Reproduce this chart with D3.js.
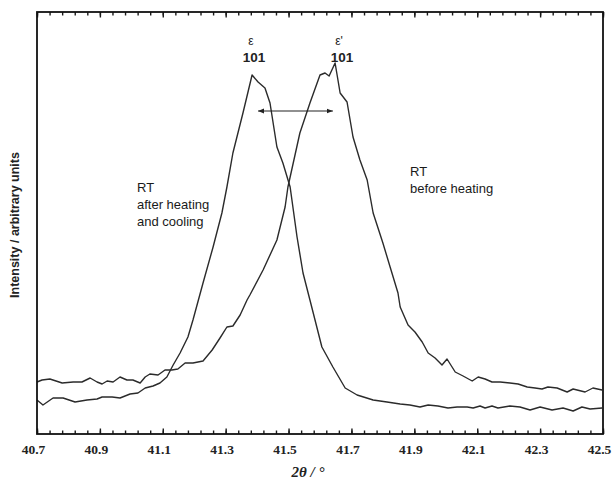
<!DOCTYPE html>
<html>
<head>
<meta charset="utf-8">
<script src="https://cdn.jsdelivr.net/npm/d3@7"></script>
<style>
  body { margin: 0; background: #fff; }
  svg { display: block; }
</style>
</head>
<body>
<svg></svg>
<script>
const WIDTH = 612;
const HEIGHT = 482;
const margin = {top: 12, right: 9, bottom: 48, left: 37};

// 2theta / degree, intensity in arbitrary units
// RT after heating and cooling (epsilon 101)
const thetaAfter = [40.700, 40.719, 40.751, 40.783, 40.821, 40.859, 40.891, 40.907, 40.939, 40.964,
  40.996, 41.021, 41.044, 41.069, 41.091, 41.113, 41.133, 41.155, 41.180, 41.196,
  41.228, 41.260, 41.288, 41.304, 41.323, 41.355, 41.384, 41.403, 41.425, 41.441,
  41.463, 41.482, 41.505, 41.527, 41.546, 41.568, 41.606, 41.641, 41.680, 41.718,
  41.769, 41.813, 41.855, 41.886, 41.918, 41.944, 41.975, 42.007, 42.036, 42.068,
  42.087, 42.109, 42.125, 42.147, 42.166, 42.204, 42.236, 42.268, 42.300, 42.338,
  42.373, 42.405, 42.433, 42.459, 42.497];
const intensityAfter = [34, 29, 36, 36, 32, 34, 35, 37, 37, 36,
  40, 41, 46, 48, 51, 57, 69, 81, 97, 114,
  151, 187, 221, 247, 281, 321, 359, 352, 346, 331,
  287, 271, 247, 197, 161, 134, 87, 67, 46, 39,
  34, 32, 30, 29, 27, 29, 28, 26, 27, 27,
  26, 28, 26, 28, 26, 28, 27, 24, 27, 24,
  26, 23, 27, 25, 26];

// RT before heating (epsilon' 101)
const thetaBefore = [40.700, 40.716, 40.741, 40.780, 40.815, 40.843, 40.869, 40.891, 40.907, 40.923,
  40.942, 40.964, 40.986, 41.005, 41.028, 41.044, 41.059, 41.085, 41.107, 41.129,
  41.148, 41.171, 41.196, 41.228, 41.257, 41.282, 41.304, 41.323, 41.346, 41.368,
  41.377, 41.419, 41.463, 41.489, 41.498, 41.536, 41.568, 41.600, 41.616, 41.629,
  41.648, 41.664, 41.686, 41.705, 41.727, 41.750, 41.769, 41.800, 41.823, 41.848,
  41.855, 41.880, 41.902, 41.925, 41.944, 41.966, 41.988, 42.004, 42.030, 42.055,
  42.084, 42.103, 42.125, 42.147, 42.173, 42.204, 42.230, 42.259, 42.284, 42.306,
  42.325, 42.354, 42.386, 42.405, 42.443, 42.468, 42.497];
const intensityBefore = [52, 54, 55, 51, 52, 52, 56, 52, 50, 53,
  52, 57, 54, 54, 51, 57, 60, 59, 64, 64,
  65, 71, 71, 73, 84, 96, 107, 108, 119, 134,
  139, 164, 194, 227, 247, 301, 331, 359, 361, 358,
  371, 341, 332, 297, 274, 254, 221, 191, 167, 141,
  127, 109, 102, 92, 81, 76, 69, 75, 62, 58,
  53, 57, 55, 52, 52, 51, 50, 47, 46, 45,
  47, 46, 42, 45, 42, 46, 44];

const majorTicks = [40.7, 40.9, 41.1, 41.3, 41.5, 41.7, 41.9, 42.1, 42.3, 42.5];
const minorTicks = d3.range(0, 46).map(k => +(40.7 + k * 0.04).toFixed(2));

const svg = d3.select('svg').attr('width', WIDTH).attr('height', HEIGHT);

const x = d3.scaleLinear()
  .domain([40.7, 42.5])
  .range([margin.left, WIDTH - margin.right]);
const y = d3.scaleLinear()
  .domain([0, 422])
  .range([HEIGHT - margin.bottom, margin.top]);

const line = d3.line()
  .x(d => x(d[0]))
  .y(d => y(d[1]));

const after = thetaAfter.map((t, i) => [t, intensityAfter[i]]);
const before = thetaBefore.map((t, i) => [t, intensityBefore[i]]);

svg.selectAll('path.curve')
  .data([after, before])
  .enter()
  .append('path')
  .attr('class', 'curve')
  .attr('d', line)
  .attr('fill', 'none')
  .attr('stroke', '#2b2b2b')
  .attr('stroke-width', 1.4)
  .attr('stroke-linejoin', 'round');

// ticks pointing inward, bottom and top
const yBottom = y.range()[0];
const yTop = y.range()[1];

function tickAxis(axisFn, ticks, len) {
  return axisFn(x).tickValues(ticks).tickSize(-len).tickFormat('');
}

svg.append('g')
  .attr('transform', `translate(0,${yBottom})`)
  .call(tickAxis(d3.axisBottom, minorTicks, 3.5));
svg.append('g')
  .attr('transform', `translate(0,${yBottom})`)
  .call(d3.axisBottom(x).tickValues(majorTicks).tickSize(-5.5).tickPadding(10)
    .tickFormat(d3.format('.1f')))
  .call(g => g.selectAll('text')
    .attr('font-family', '"Liberation Serif", "Times New Roman", serif')
    .attr('font-size', 13.5)
    .attr('font-weight', 'bold')
    .attr('fill', '#222')
    .attr('dx', -4));
svg.append('g')
  .attr('transform', `translate(0,${yTop})`)
  .call(tickAxis(d3.axisTop, minorTicks, 3.5));
svg.append('g')
  .attr('transform', `translate(0,${yTop})`)
  .call(tickAxis(d3.axisTop, majorTicks, 5.5));

svg.selectAll('.domain').remove();
svg.selectAll('.tick line').attr('stroke', '#1a1a1a').attr('stroke-width', 1.4);

// frame
svg.append('rect')
  .attr('x', margin.left)
  .attr('y', margin.top)
  .attr('width', WIDTH - margin.left - margin.right)
  .attr('height', HEIGHT - margin.top - margin.bottom)
  .attr('fill', 'none')
  .attr('stroke', '#111')
  .attr('stroke-width', 1.8);

// axis titles
svg.append('text')
  .attr('x', 308)
  .attr('y', 477)
  .attr('text-anchor', 'middle')
  .attr('font-family', '"Liberation Serif", "Times New Roman", serif')
  .attr('font-size', 15)
  .attr('font-weight', 'bold')
  .attr('font-style', 'italic')
  .attr('fill', '#222')
  .text('2θ / °');

svg.append('text')
  .attr('transform', 'translate(19,225) rotate(-90)')
  .attr('text-anchor', 'middle')
  .attr('font-family', '"Liberation Sans", Arial, sans-serif')
  .attr('font-size', 12.5)
  .attr('font-weight', 'bold')
  .attr('fill', '#222')
  .text('Intensity / arbitrary units');

// peak labels
const sans = '"Liberation Sans", Arial, sans-serif';
const peakLabels = [
  {t: 41.39, sym: 'ε', hkl: '101'},
  {t: 41.67, sym: 'ε\'', hkl: '101'}
];
const pl = svg.selectAll('g.peak').data(peakLabels).enter().append('g');
pl.append('text')
  .attr('x', d => x(d.t) - 3)
  .attr('y', 45)
  .attr('text-anchor', 'middle')
  .attr('font-family', sans)
  .attr('font-size', 12)
  .attr('fill', '#222')
  .text(d => d.sym);
pl.append('text')
  .attr('x', d => x(d.t))
  .attr('y', 62)
  .attr('text-anchor', 'middle')
  .attr('font-family', sans)
  .attr('font-size', 13.5)
  .attr('font-weight', 'bold')
  .attr('fill', '#222')
  .text(d => d.hkl);

// double arrow between the two peaks
svg.append('defs').append('marker')
  .attr('id', 'head')
  .attr('viewBox', '0 0 10 10')
  .attr('refX', 10).attr('refY', 5)
  .attr('markerWidth', 6).attr('markerHeight', 6)
  .attr('markerUnits', 'userSpaceOnUse')
  .attr('orient', 'auto-start-reverse')
  .append('path')
  .attr('d', 'M0,1L10,5L0,9Z')
  .attr('fill', '#222');

svg.append('line')
  .attr('x1', x(41.403)).attr('x2', x(41.641))
  .attr('y1', y(323)).attr('y2', y(323))
  .attr('stroke', '#222')
  .attr('stroke-width', 1.2)
  .attr('marker-start', 'url(#head)')
  .attr('marker-end', 'url(#head)');

// curve labels
const curveLabels = [
  {x: 137, y: 192, lines: ['RT', 'after heating', 'and cooling']},
  {x: 410, y: 176, lines: ['RT', 'before heating']}
];
curveLabels.forEach(c => {
  svg.append('text')
    .attr('font-family', sans)
    .attr('font-size', 13)
    .attr('fill', '#1a1a1a')
    .selectAll('tspan')
    .data(c.lines)
    .enter()
    .append('tspan')
    .attr('x', c.x)
    .attr('y', (d, i) => c.y + i * 17)
    .text(d => d);
});
</script>
</body>
</html>
